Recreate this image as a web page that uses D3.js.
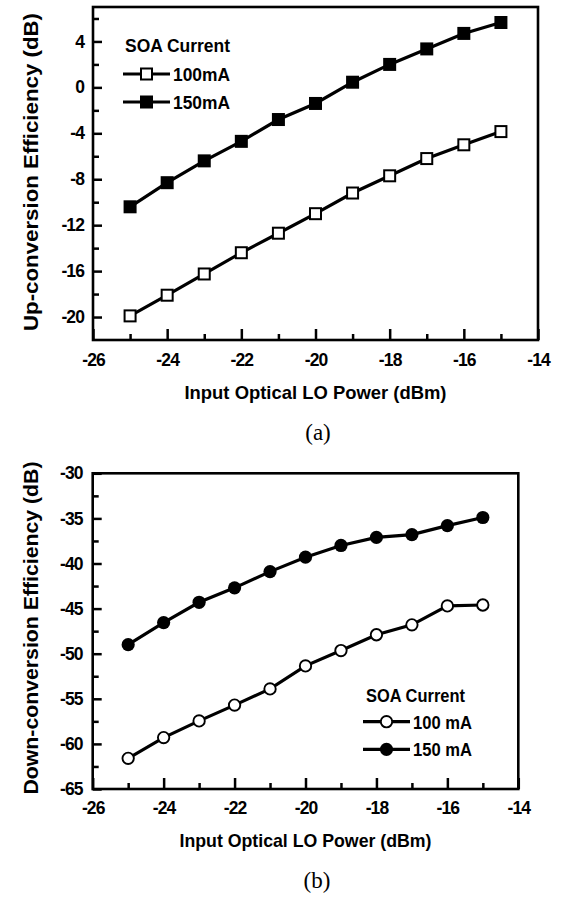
<!DOCTYPE html>
<html><head><meta charset="utf-8">
<script src="https://cdn.jsdelivr.net/npm/d3@7"></script>
<style>body{margin:0;background:#fff}svg{display:block}</style>
</head><body><svg id="c" width="564" height="897"></svg>
<script>
// ---- data ----
const xPower = [-25, -24, -23, -22, -21, -20, -19, -18, -17, -16, -15];
const upEff100 = [-19.9, -18.1, -16.25, -14.4, -12.7, -11.0, -9.2, -7.7, -6.2, -5.0, -3.85];
const upEff150 = [-10.4, -8.3, -6.4, -4.7, -2.8, -1.4, 0.45, 2.0, 3.35, 4.7, 5.65];
const downEff100 = [-61.6, -59.3, -57.45, -55.7, -53.9, -51.35, -49.65, -47.9, -46.8, -44.7, -44.6];
const downEff150 = [-49.0, -46.55, -44.3, -42.7, -40.9, -39.3, -38.0, -37.1, -36.8, -35.8, -34.9];
const xTicks = [-26, -24, -22, -20, -18, -16, -14];
const xMinorTicks = [-25, -23, -21, -19, -17, -15];
const upYTicks = [-20, -16, -12, -8, -4, 0, 4];
const upYMinorTicks = [-18, -14, -10, -6, -2, 2, 6];
const downYTicks = [-65, -60, -55, -50, -45, -40, -35, -30];
const downYMinorTicks = [-62.5, -57.5, -52.5, -47.5, -42.5, -37.5, -32.5];
const upLegend = ["100mA", "150mA"];
const downLegend = ["100 mA", "150 mA"];
const legendTitle = "SOA Current";
const xTitle = "Input Optical LO Power (dBm)";
const upYTitle = "Up-conversion Efficiency (dB)";
const downYTitle = "Down-conversion Efficiency (dB)";

const svg = d3.select("#c");
const FONT = "'Liberation Sans', Arial, sans-serif";
const fmt = d => String(d);

function panel(cfg) {
  const x = d3.scaleLinear().domain([-26, -14]).range([cfg.left, cfg.right]);
  const y = d3.scaleLinear().domain(cfg.yDomain).range([cfg.bottom, cfg.top]);
  const g = svg.append("g");

  // minor ticks
  g.append("g").attr("transform", `translate(0,${cfg.bottom})`)
    .call(d3.axisBottom(x).tickValues(xMinorTicks).tickSize(-6).tickFormat(""))
    .call(a => a.select(".domain").remove())
    .selectAll("line").attr("stroke", "#000").attr("stroke-width", 2.5);
  g.append("g").attr("transform", `translate(${cfg.left},0)`)
    .call(d3.axisLeft(y).tickValues(cfg.yMinor).tickSize(-6).tickFormat(""))
    .call(a => a.select(".domain").remove())
    .selectAll("line").attr("stroke", "#000").attr("stroke-width", 2.5);

  // major x axis
  const gx = g.append("g").attr("transform", `translate(0,${cfg.bottom})`)
    .call(d3.axisBottom(x).tickValues(xTicks).tickSize(-11).tickPadding(cfg.xPad).tickFormat(fmt));
  gx.select(".domain").remove();
  gx.selectAll("line").attr("stroke", "#000").attr("stroke-width", 2.5);
  gx.selectAll("text").attr("font-family", FONT).attr("font-weight", "bold")
    .attr("font-size", 17.5).attr("letter-spacing", -0.9).attr("fill", "#000");

  const gy = g.append("g").attr("transform", `translate(${cfg.left},0)`)
    .call(d3.axisLeft(y).tickValues(cfg.yTicks).tickSize(-9).tickPadding(cfg.yPad).tickFormat(fmt));
  gy.select(".domain").remove();
  gy.selectAll("line").attr("stroke", "#000").attr("stroke-width", 2.5);
  gy.selectAll("text").attr("font-family", FONT).attr("font-weight", "bold")
    .attr("font-size", 17.5).attr("letter-spacing", -0.9).attr("fill", "#000");

  // frame
  g.append("rect").attr("x", cfg.left).attr("y", cfg.top)
    .attr("width", cfg.right - cfg.left).attr("height", cfg.bottom - cfg.top)
    .attr("fill", "none").attr("stroke", "#000").attr("stroke-width", 2.6);

  // series
  const line = d3.line().x(d => x(d[0])).y(d => y(d[1]));
  cfg.series.forEach(s => {
    const pts = xPower.map((v, i) => [v, s.values[i]]);
    g.append("path").datum(pts).attr("d", line)
      .attr("fill", "none").attr("stroke", "#000").attr("stroke-width", 3.2);
    drawMarkers(g, pts.map(p => [x(p[0]), y(p[1])]), cfg.shape, s.filled);
  });

  // axis titles
  g.append("text").attr("x", (cfg.left + cfg.right) / 2).attr("y", cfg.xTitleY)
    .attr("text-anchor", "middle").attr("font-family", FONT).attr("font-weight", "bold")
    .attr("font-size", 19).attr("textLength", cfg.xTitleLen).attr("lengthAdjust", "spacingAndGlyphs")
    .text(xTitle);
  g.append("text").attr("transform", `translate(${cfg.yTitleX},${cfg.yTitleCY}) rotate(-90)`)
    .attr("text-anchor", "middle").attr("font-family", FONT).attr("font-weight", "bold")
    .attr("font-size", 21).attr("textLength", cfg.yTitleLen).attr("lengthAdjust", "spacingAndGlyphs")
    .text(cfg.yTitle);

  // legend
  const L = cfg.legend;
  g.append("text").attr("x", L.x).attr("y", L.titleY)
    .attr("font-family", FONT).attr("font-weight", "bold").attr("font-size", 18.5)
    .attr("textLength", L.titleLen).attr("lengthAdjust", "spacingAndGlyphs").text(legendTitle);
  cfg.series.forEach((s, i) => {
    const cy = L.rowY[i];
    g.append("line").attr("x1", L.lineX1).attr("x2", L.lineX2).attr("y1", cy).attr("y2", cy)
      .attr("stroke", "#000").attr("stroke-width", 3.2);
    drawMarkers(g, [[(L.lineX1 + L.lineX2) / 2, cy]], cfg.shape, s.filled);
    g.append("text").attr("x", L.textX).attr("y", cy + 6.8)
      .attr("font-family", FONT).attr("font-weight", "bold").attr("font-size", 18.5)
      .attr("textLength", L.textLen).attr("lengthAdjust", "spacingAndGlyphs").text(cfg.names[i]);
  });

  // caption
  g.append("text").attr("x", cfg.capX).attr("y", cfg.capY).attr("text-anchor", "middle")
    .attr("font-family", "'Liberation Serif','Times New Roman',serif").attr("font-size", 23)
    .text(cfg.caption);
}

function drawMarkers(g, pts, shape, filled) {
  if (shape === "square") {
    const s = filled ? 13 : 11;
    g.selectAll(null).data(pts).enter().append("rect")
      .attr("x", d => d[0] - s / 2).attr("y", d => d[1] - s / 2)
      .attr("width", s).attr("height", s)
      .attr("fill", filled ? "#000" : "#fff").attr("stroke", "#000")
      .attr("stroke-width", filled ? 0 : 2);
  } else {
    g.selectAll(null).data(pts).enter().append("circle")
      .attr("cx", d => d[0]).attr("cy", d => d[1]).attr("r", filled ? 6.6 : 5.7)
      .attr("fill", filled ? "#000" : "#fff").attr("stroke", "#000")
      .attr("stroke-width", filled ? 0 : 1.9);
  }
}

panel({
  left: 93, right: 538, top: 7, bottom: 340, yDomain: [-22, 7],
  yTicks: upYTicks, yMinor: upYMinorTicks, xPad: 14, yPad: 9,
  shape: "square", names: upLegend,
  series: [{ values: upEff100, filled: false }, { values: upEff150, filled: true }],
  xTitleY: 399, xTitleLen: 262,
  yTitle: upYTitle, yTitleX: 38, yTitleCY: 172, yTitleLen: 318,
  legend: { x: 125, titleY: 51.7, titleLen: 105, rowY: [74, 102], lineX1: 123, lineX2: 170, textX: 173, textLen: 57 },
  caption: "(a)", capX: 318, capY: 440
});

panel({
  left: 92.7, right: 518.3, top: 473.3, bottom: 789, yDomain: [-65, -30],
  yTicks: downYTicks, yMinor: downYMinorTicks, xPad: 13, yPad: 10,
  shape: "circle", names: downLegend,
  series: [{ values: downEff100, filled: false }, { values: downEff150, filled: true }],
  xTitleY: 846.5, xTitleLen: 252,
  yTitle: downYTitle, yTitleX: 38, yTitleCY: 628, yTitleLen: 333,
  legend: { x: 366, titleY: 701.7, titleLen: 99, rowY: [721.7, 749.3], lineX1: 363, lineX2: 410, textX: 413, textLen: 59 },
  caption: "(b)", capX: 317, capY: 888
});
</script></body></html>
